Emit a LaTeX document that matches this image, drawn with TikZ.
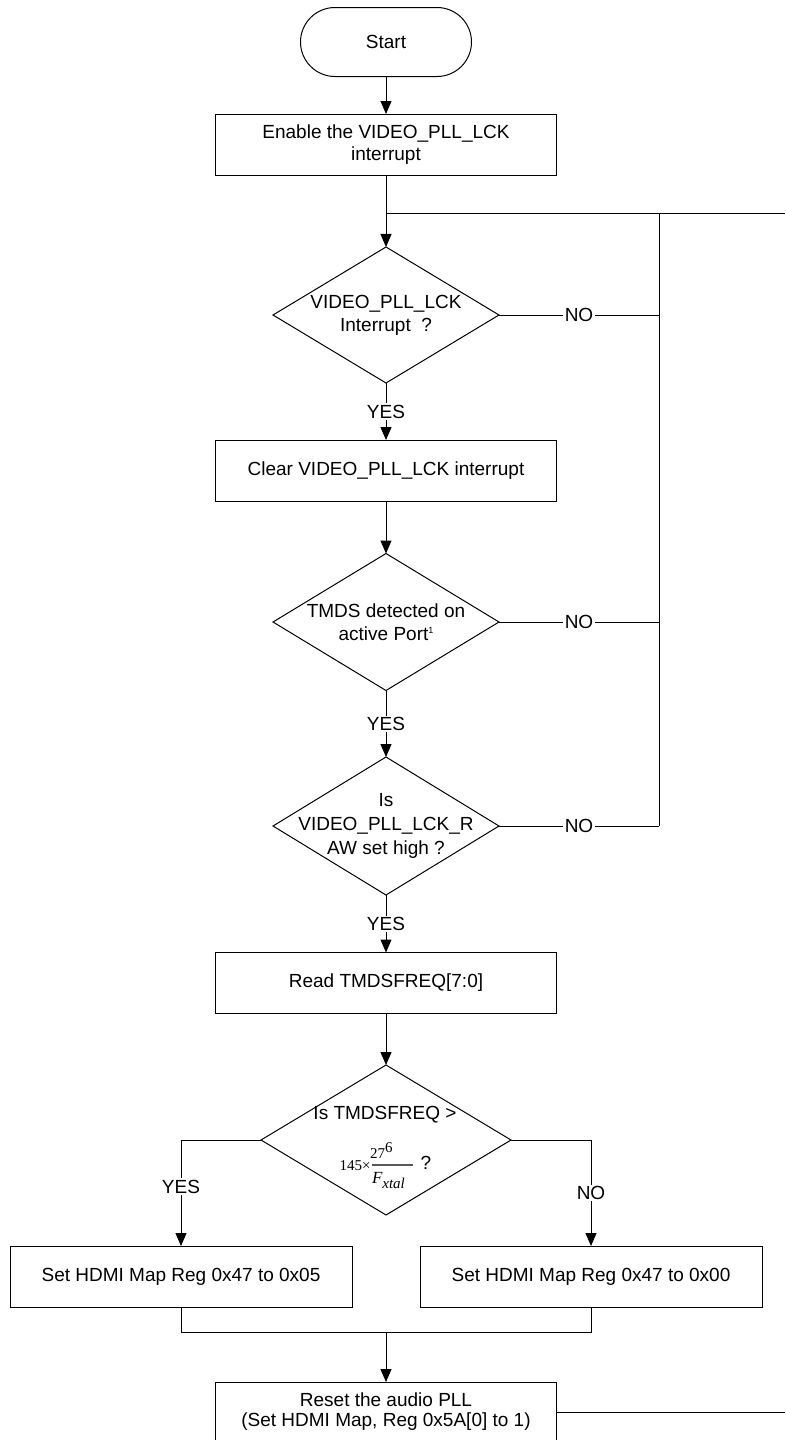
\documentclass[tikz,border=0pt]{standalone}
\usepackage{fontspec}
\setmainfont{Liberation Sans}
\newfontfamily\formfont{Liberation Serif}
\usetikzlibrary{shapes.geometric,arrows.meta}
\begin{document}
\begin{tikzpicture}[x=1pt,y=-1pt,
  font=\fontsize{19}{22}\selectfont,
  line width=1pt,
  every node/.style={inner sep=0pt, outer sep=0pt},
  proc/.style={draw, rectangle, minimum width=341pt, minimum height=61pt, align=center},
  term/.style={draw, rectangle, rounded corners=34.5pt, minimum width=171pt, minimum height=69pt},
  dec/.style={draw, diamond, minimum width=226pt, minimum height=137pt},
  arr/.style={-{Triangle[width=11pt,length=13pt]}},
  lbl/.style={fill=white, inner sep=1.5pt},
  formula/.style={font=\formfont\fontsize{15}{15}\selectfont}]
\useasboundingbox (0,0) rectangle (785,1440);
\clip (0,0) rectangle (785,1440);

% blocks
\node[term] (start) at (386,42) {Start};
\node[proc] (enable) at (386,144.5) {Enable the VIDEO\_PLL\_LCK\\interrupt};
\node[dec, minimum height=136pt] (d1) at (386,315) {};
\node[align=center, font=\fontsize{19}{23}\selectfont] (t1) at (d1) {VIDEO\_PLL\_LCK\\Interrupt\ \ ?};
\node[proc] (clear) at (386,470.5) {Clear VIDEO\_PLL\_LCK interrupt};
\node[dec] (d2) at (386,622) {};
\node[align=center, font=\fontsize{19}{23}\selectfont] (t2) at (d2) {TMDS detected on\\active Port\raisebox{7pt}{\fontsize{9}{9}\selectfont 1}};
\node[dec, minimum height=138pt] (d3) at (386,826) {};
\node[align=center, font=\fontsize{19}{24}\selectfont] (t3) at (d3) {Is\\VIDEO\_PLL\_LCK\_R\\AW set high ?};
\node[proc] (read) at (386,983) {Read TMDSFREQ[7:0]};
\node[dec, minimum width=250pt, minimum height=150pt] (d4) at (386,1140) {};
\node (q1) at (385,1115) {Is TMDSFREQ >};

% threshold expression: 145 x 27^6 / F_xtal
\node[formula, anchor=base] (f145) at (355,1170) {145×};
\node[formula, anchor=base west] (fnum) at (370,1158) {27\raisebox{6pt}{\fontsize{15}{15}\selectfont 6}};
\node[fill=black!65, minimum width=41pt, minimum height=1.3pt] (fbar) at (392.5,1165) {};
\node[formula, anchor=base west, font=\formfont\fontsize{17}{17}\selectfont] (fden) at (372,1183) {\itshape F\raisebox{-5pt}{\fontsize{15}{15}\selectfont xtal}};
\node (q3) at (426,1163) {?};

\node[proc, minimum width=342pt] (setA) at (181,1276.5) {Set HDMI Map Reg 0x47 to 0x05};
\node[proc, minimum width=342pt] (setB) at (591,1276.5) {Set HDMI Map Reg 0x47 to 0x00};
\node[proc, minimum height=60pt, font=\fontsize{19}{20}\selectfont] (reset) at (386,1412) {Reset the audio PLL\\(Set HDMI Map, Reg 0x5A[0] to 1)};

% routing points
\coordinate (join) at (386,213);
\coordinate (edgeT) at (785,213);
\coordinate (loopT) at (659,213);
\coordinate (loopB) at (659,826);
\coordinate (merge) at (386,1332);
\coordinate (edgeB) at (785,1412);

% main flow
\draw[arr] (start) -- (enable);
\draw[arr] (enable) -- (d1);
\draw[arr] (d1) -- node[lbl]{YES} (clear);
\draw[arr] (clear) -- (d2);
\draw[arr] (d2) -- node[lbl]{YES} (d3);
\draw[arr] (d3) -- node[lbl]{YES} (read);
\draw[arr] (read) -- (d4);

% retry loop
\draw (join) -- (edgeT);
\draw (loopT) -- (loopB);
\draw (d1.east) -- node[lbl]{NO} (d1.east -| loopT);
\draw (d2.east) -- node[lbl]{NO} (d2.east -| loopT);
\draw (d3.east) -- node[lbl]{NO} (d3.east -| loopT);

% frequency branch
\draw[arr] (d4.west) -| node[lbl, pos=0.72]{YES} (setA.north);
\draw[arr] (d4.east) -| node[lbl, pos=0.75]{NO} (setB.north);
\draw (setA.south) |- (merge) -| (setB.south);
\draw[arr] (merge) -- (reset);
\draw (reset.east) -- (edgeB);
\end{tikzpicture}
\end{document}
